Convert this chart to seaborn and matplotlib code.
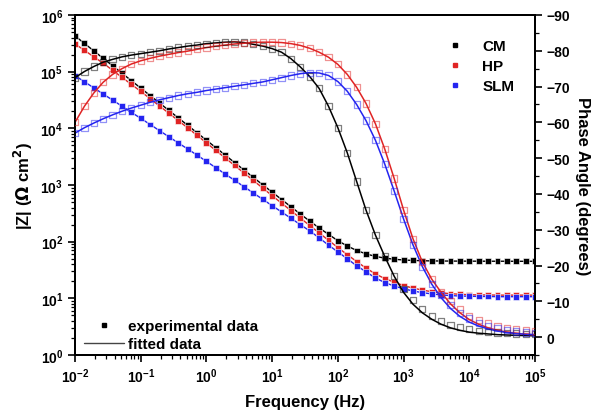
import seaborn as sns
import matplotlib.pyplot as plt
import matplotlib.ticker as mticker
from matplotlib.lines import Line2D
import pandas as pd

# frequencies (Hz), 7 points per decade
freq = [0.01, 0.0139, 0.0193, 0.0268, 0.0373, 0.0518, 0.072,
        0.1, 0.139, 0.193, 0.268, 0.373, 0.518, 0.72,
        1.0, 1.39, 1.93, 2.68, 3.73, 5.18, 7.2,
        10, 13.9, 19.3, 26.8, 37.3, 51.8, 72.0,
        100, 139, 193, 268, 373, 518, 720,
        1000, 1389, 1931, 2683, 3728, 5179, 7197,
        10000, 13895, 19307, 26827, 37276, 51795, 71969, 100000]

samples = ['CM', 'HP', 'SLM']
colors = ['#000000', '#E02424', '#2424F0']

# |Z| (ohm cm2)
z_cm = [427000, 315000, 233000, 172000, 127000, 94000, 69400, 51300, 37900, 28000,
        20700, 15300, 11300, 8340, 6170, 4560, 3370, 2490, 1840, 1360,
        1007, 748, 556, 413, 308, 231, 175, 135, 104, 84,
        70, 61, 55, 51.3, 49, 47.5, 46.7, 46.1, 45.8, 45.6,
        45.5, 45.4, 45.3, 45.3, 45.2, 45.2, 45.2, 45.1, 45.1, 45.1]
z_hp = [309000, 238000, 183000, 141000, 106000, 79400, 59700, 44900, 33400, 24800,
        18500, 13700, 10200, 7520, 5530, 4070, 3000, 2210, 1630, 1200,
        882, 649, 479, 354, 261, 193, 143, 106, 78.8, 59,
        44.7, 34.2, 27, 22.3, 19.3, 16.8, 15.2, 14.0, 13.1, 12.5,
        12.1, 11.8, 11.6, 11.5, 11.5, 11.4, 11.4, 11.4, 11.4, 11.4]
z_slm = [85100, 66400, 51800, 40400, 31500, 24600, 19200, 15000, 11700, 9100,
         7100, 5530, 4320, 3370, 2610, 2020, 1560, 1210, 933, 723,
         558, 432, 335, 259, 200, 155, 117, 87, 66, 50,
         37.6, 29.5, 22.9, 19, 16.5, 14.8, 13.5, 12.6, 12.0, 11.5,
         11.2, 11.0, 10.9, 10.8, 10.8, 10.7, 10.7, 10.7, 10.7, 10.7]

# phase angle (degrees), fitted
ph_cm_fit = [-72.5, -74.2, -75.6, -76.8, -77.6, -78.3, -78.8, -79.2, -79.6, -80.0,
             -80.5, -80.9, -81.3, -81.6, -82.0, -82.2, -82.4, -82.5, -82.3, -81.8,
             -81.3, -80.6, -79.6, -77.8, -75.5, -72.8, -69.5, -64.5, -58.5, -51.5,
             -43.5, -35.5, -28.5, -22.5, -17.0, -12.5, -9.2, -6.8, -5.0, -3.6,
             -2.6, -1.9, -1.4, -1.1, -0.9, -0.7, -0.6, -0.5, -0.45, -0.4]
ph_hp_fit = [-60.0, -64.5, -68.2, -71.2, -73.4, -75.0, -76.3, -77.2, -77.9, -78.5,
             -79.0, -79.5, -79.9, -80.4, -80.9, -81.3, -81.6, -81.9, -82.1, -82.3,
             -82.4, -82.4, -82.3, -82.0, -81.5, -80.7, -79.6, -78.2, -76.2, -73.4,
             -69.8, -65.3, -59.6, -52.5, -44.3, -35.5, -27.5, -21.0, -16.2, -12.5,
             -9.3, -6.8, -4.9, -3.6, -2.6, -1.9, -1.4, -1.0, -0.8, -0.6]
ph_slm_fit = [-57.0, -58.5, -59.8, -61.0, -62.1, -63.1, -64.0, -64.8, -65.6, -66.3,
              -66.9, -67.5, -68.0, -68.4, -68.9, -69.3, -69.7, -70.1, -70.5, -70.9,
              -71.3, -71.9, -72.5, -73.1, -73.6, -73.9, -73.8, -73.1, -71.4, -68.7,
              -65.0, -60.5, -55.0, -48.3, -40.8, -33.0, -25.8, -19.7, -14.8, -11.0,
              -8.0, -5.8, -4.2, -3.1, -2.3, -1.7, -1.3, -1.0, -0.8, -0.7]

# phase angle (degrees), experimental
ph_cm_exp = ph_cm_fit[:35] + [-13.5, -10.3, -7.8, -6.0, -4.5, -3.5, -2.8, -2.2,
                              -1.8, -1.5, -1.3, -1.1, -1.0, -0.9, -0.8]
ph_hp_exp = ph_hp_fit[:40] + [-10.0, -7.8, -6.0, -4.7, -3.8, -3.1, -2.6, -2.2, -1.9, -1.7]
ph_slm_exp = ph_slm_fit[:39] + [-11.8, -9.0, -6.8, -5.2, -4.0, -3.2, -2.5, -2.0,
                                -1.6, -1.3, -1.1]

x_ticks = [0.01, 0.1, 1, 10, 100, 1000, 10000, 100000]
y_ticks = [1, 10, 100, 1000, 10000, 100000, 1000000]
ph_ticks = [-90, -80, -70, -60, -50, -40, -30, -20, -10, 0]

rows = []
for s, z, pf, pe in zip(samples, [z_cm, z_hp, z_slm],
                        [ph_cm_fit, ph_hp_fit, ph_slm_fit],
                        [ph_cm_exp, ph_hp_exp, ph_slm_exp]):
    for f, zv, a, b in zip(freq, z, pf, pe):
        rows.append({'freq': f, 'Z': zv, 'ph_fit': a, 'ph_exp': b, 'sample': s})
df = pd.DataFrame(rows)
pal = dict(zip(samples, colors))

sns.set_style('ticks')
plt.rcParams['font.family'] = ['Liberation Sans', 'DejaVu Sans']
plt.rcParams['font.weight'] = 'bold'
plt.rcParams['axes.linewidth'] = 1.4
for k in ['axes.edgecolor', 'xtick.color', 'ytick.color', 'text.color', 'axes.labelcolor']:
    plt.rcParams[k] = 'black'

fig = plt.figure(figsize=(6.01, 4.14), dpi=100)
ax = fig.add_axes([0.1248, 0.140, 0.7654, 0.8214])
ax.set_xscale('log')
ax.set_yscale('log')
ax2 = ax.twinx()

# |Z|
sns.lineplot(data=df, x='freq', y='Z', hue='sample', palette=pal, ax=ax,
             lw=1.0, legend=False, sort=False, estimator=None)
sns.scatterplot(data=df, x='freq', y='Z', hue='sample', palette=pal, ax=ax,
                marker='s', s=18, linewidth=0.4, legend=False, zorder=3)

# phase
for s in samples:
    d = df[df['sample'] == s]
    ax2.scatter(d['freq'], d['ph_exp'], marker='s', s=20, facecolors='none',
                edgecolors=pal[s], linewidths=0.9, alpha=0.5, zorder=3)
sns.lineplot(data=df, x='freq', y='ph_fit', hue='sample', palette=pal, ax=ax2,
             lw=1.1, legend=False, sort=False, estimator=None)

ax.set_xlim(0.01, 1e5)
ax.set_ylim(1, 1e6)
ax2.set_ylim(5, -90)

# only in-range ticks
x_minor = [m * t for t in x_ticks[:-1] for m in range(2, 10)]
y_minor = [m * t for t in y_ticks[:-1] for m in range(2, 10)]
ax.xaxis.set_major_locator(mticker.FixedLocator(x_ticks))
ax.xaxis.set_minor_locator(mticker.FixedLocator(x_minor))
ax.yaxis.set_major_locator(mticker.FixedLocator(y_ticks))
ax.yaxis.set_minor_locator(mticker.FixedLocator(y_minor))
ax.xaxis.set_major_formatter(mticker.LogFormatterSciNotation())
ax.yaxis.set_major_formatter(mticker.LogFormatterSciNotation())
ax.xaxis.set_minor_formatter(mticker.NullFormatter())
ax.yaxis.set_minor_formatter(mticker.NullFormatter())
ax2.yaxis.set_major_locator(mticker.FixedLocator(ph_ticks))
ax2.yaxis.set_minor_locator(mticker.FixedLocator([-85, -75, -65, -55, -45, -35, -25, -15, -5, 5]))

ax.tick_params(which='major', length=5, width=1.2, labelsize=10, top=False)
ax.tick_params(which='minor', length=3, width=0.9, top=False)
ax2.tick_params(which='major', length=5, width=1.2, labelsize=10)
ax2.tick_params(which='minor', length=3, width=0.9)
for lab in ax.get_xticklabels() + ax.get_yticklabels() + ax2.get_yticklabels():
    lab.set_fontweight('bold')

ax.set_xlabel('Frequency (Hz)', fontsize=12, fontweight='bold', labelpad=6)
ax.set_ylabel(r'|Z| ($\mathbf{\Omega}$ cm$^\mathbf{2}$)', fontsize=12, fontweight='bold', labelpad=4)
ax2.set_xlabel('')
ax2.set_ylabel('Phase Angle (degrees)', fontsize=12, fontweight='bold', rotation=270, labelpad=14)
for sp in ['top', 'right']:
    ax.spines[sp].set_visible(True)
    ax2.spines[sp].set_visible(True)

# legends
h1 = [Line2D([], [], ls='none', marker='s', ms=3.5, color=c) for c in colors]
leg1 = ax2.legend(h1, samples, loc='upper right', bbox_to_anchor=(0.985, 0.97),
                  frameon=False, prop={'weight': 'bold', 'size': 11},
                  handlelength=1.0, handletextpad=1.3, labelspacing=0.4)
ax2.add_artist(leg1)
h2 = [Line2D([], [], ls='none', marker='s', ms=3.5, color='black'),
      Line2D([], [], color='#444444', lw=1.0)]
ax2.legend(h2, ['experimental data', 'fitted data'], loc='lower left',
           bbox_to_anchor=(-0.01, -0.03), frameon=False,
           prop={'weight': 'bold', 'size': 11}, handlelength=2.6,
           handletextpad=0.3, labelspacing=0.3)

plt.savefig('out.png', dpi=100)
